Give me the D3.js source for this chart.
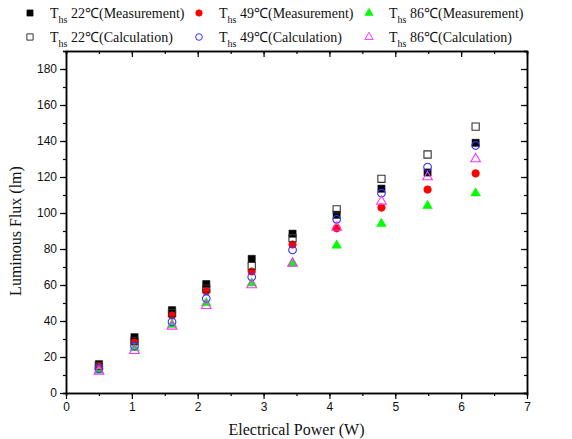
<!DOCTYPE html>
<html>
<head>
<meta charset="utf-8">
<script src="https://cdn.jsdelivr.net/npm/d3@7"></script>
<style>
  html, body { margin: 0; padding: 0; background: #fff; }
  svg { display: block; }
</style>
</head>
<body>
<svg id="chart" width="572" height="439"></svg>
<script>
// Electrical power (W) at which each sample was taken
const power = [0.5, 1.04, 1.61, 2.13, 2.82, 3.44, 4.11, 4.79, 5.49, 6.22];

// Luminous flux (lm) per heat-sink temperature
const meas22 = [16, 31, 46, 60.5, 74.5, 88.5, 99, 113.5, 122.5, 139];
const meas49 = [14.5, 28, 43, 56.5, 67.5, 82.5, 91.5, 103, 113, 122];
const meas86 = [12.5, 25, 38, 50, 61, 72, 82, 94, 104, 111];
const calc22 = [15, 29, 44.5, 58, 70.5, 86, 102, 119, 132.5, 148];
const calc49 = [13.5, 26, 39.5, 52.5, 64.5, 79.5, 96.5, 111, 125.5, 137.5];
const calc86 = [12, 23.5, 37, 48.5, 60, 72, 92, 106.5, 120, 130];

const xTicks = [0, 1, 2, 3, 4, 5, 6, 7];
const yTicks = [0, 20, 40, 60, 80, 100, 120, 140, 160, 180];

const series = [
  { temp: "22", kind: "Measurement", values: meas22, shape: "square", fill: "#000", stroke: "#000" },
  { temp: "49", kind: "Measurement", values: meas49, shape: "circle", fill: "#ff0000", stroke: "#ff0000" },
  { temp: "86", kind: "Measurement", values: meas86, shape: "triangle", fill: "#00ff00", stroke: "#00ee00" },
  { temp: "22", kind: "Calculation", values: calc22, shape: "square", fill: "none", stroke: "#333" },
  { temp: "49", kind: "Calculation", values: calc49, shape: "circle", fill: "none", stroke: "#3333ff" },
  { temp: "86", kind: "Calculation", values: calc86, shape: "triangle", fill: "none", stroke: "#ff33ff" }
];

const svg = d3.select("#chart");
const plot = { left: 66, right: 527, top: 51, bottom: 393 };

const x = d3.scaleLinear().domain([0, 7]).range([plot.left, plot.right]);
const y = d3.scaleLinear().domain([0, 190]).range([plot.bottom, plot.top]);

const symbolType = { square: d3.symbolSquare, circle: d3.symbolCircle, triangle: d3.symbolTriangle };
const symbolSize = { square: 52, circle: 46, triangle: 40 };
function symbolPath(shape, scale = 1) {
  return d3.symbol().type(symbolType[shape]).size(symbolSize[shape] * scale)();
}

// Axes: labelled bottom/left with outward ticks, mirrored top/right with inward ticks
const axisFont = "'Liberation Sans', Arial, sans-serif";
const serif = "'Liberation Serif', 'Times New Roman', serif";

function styleAxis(g) {
  g.select(".domain").attr("stroke", "#000").attr("stroke-width", 1.5);
  g.selectAll(".tick line").attr("stroke", "#000").attr("stroke-width", 1.2);
  g.selectAll(".tick text").attr("fill", "#111").style("font-family", axisFont).style("font-size", "12px");
}

const xMinor = d3.range(0, 7.01, 0.5);
const yMinor = d3.range(0, 190.1, 10);

// bottom
svg.append("g").attr("transform", `translate(0,${plot.bottom})`)
  .call(d3.axisBottom(x).tickValues(xMinor).tickSize(3).tickFormat(""))
  .call(styleAxis);
svg.append("g").attr("transform", `translate(0,${plot.bottom})`)
  .call(d3.axisBottom(x).tickValues(xTicks).tickSize(6).tickSizeOuter(0).tickPadding(3).tickFormat(d3.format("d")))
  .call(styleAxis);
// top
svg.append("g").attr("transform", `translate(0,${plot.top})`)
  .call(d3.axisBottom(x).tickValues(xMinor).tickSize(3).tickFormat(""))
  .call(styleAxis);
svg.append("g").attr("transform", `translate(0,${plot.top})`)
  .call(d3.axisBottom(x).tickValues(xTicks).tickSize(6).tickSizeOuter(0).tickFormat(""))
  .call(styleAxis);
// left
svg.append("g").attr("transform", `translate(${plot.left},0)`)
  .call(d3.axisLeft(y).tickValues(yMinor).tickSize(3).tickFormat(""))
  .call(styleAxis);
svg.append("g").attr("transform", `translate(${plot.left},0)`)
  .call(d3.axisLeft(y).tickValues(yTicks).tickSize(6).tickSizeOuter(0).tickPadding(3).tickFormat(d3.format("d")))
  .call(styleAxis);
// right
svg.append("g").attr("transform", `translate(${plot.right},0)`)
  .call(d3.axisLeft(y).tickValues(yMinor).tickSize(3).tickFormat(""))
  .call(styleAxis);
svg.append("g").attr("transform", `translate(${plot.right},0)`)
  .call(d3.axisLeft(y).tickValues(yTicks).tickSize(6).tickSizeOuter(0).tickFormat(""))
  .call(styleAxis);

// Axis titles
svg.append("text")
  .attr("x", (plot.left + plot.right) / 2).attr("y", 435)
  .attr("text-anchor", "middle")
  .style("font-family", serif).style("font-size", "16px").attr("fill", "#111")
  .text("Electrical Power (W)");

svg.append("text")
  .attr("transform", "translate(21,231) rotate(-90)")
  .attr("text-anchor", "middle")
  .style("font-family", serif).style("font-size", "16px").attr("fill", "#111")
  .text("Luminous Flux (lm)");

// Data points
const pts = svg.append("g");
series.forEach(s => {
  pts.selectAll(null)
    .data(s.values.map((v, i) => [power[i], v]))
    .join("path")
    .attr("d", symbolPath(s.shape))
    .attr("transform", d => `translate(${x(d[0])},${y(d[1])})`)
    .attr("fill", s.fill)
    .attr("stroke", s.stroke)
    .attr("stroke-width", s.fill === "none" ? 1.1 : 0.5);
});

// Legend: two rows, three columns
const legendCols = [30, 199, 369];
const legendRows = [13, 37];
series.forEach((s, i) => {
  const col = i % 3, row = Math.floor(i / 3);
  const g = svg.append("g").attr("transform", `translate(${legendCols[col]},${legendRows[row]})`);
  g.append("path").attr("d", symbolPath(s.shape, 0.75))
    .attr("fill", s.fill).attr("stroke", s.stroke)
    .attr("stroke-width", s.fill === "none" ? 1 : 0.5);
  const t = g.append("text").attr("x", 20).attr("y", 5)
    .style("font-family", serif).style("font-size", "14px").attr("fill", "#111");
  t.append("tspan").text("T");
  t.append("tspan").attr("dy", 5).style("font-size", "10px").text("hs");
  t.append("tspan").attr("dy", -5).text(` ${s.temp}\u2103(${s.kind})`);
});
</script>
</body>
</html>
